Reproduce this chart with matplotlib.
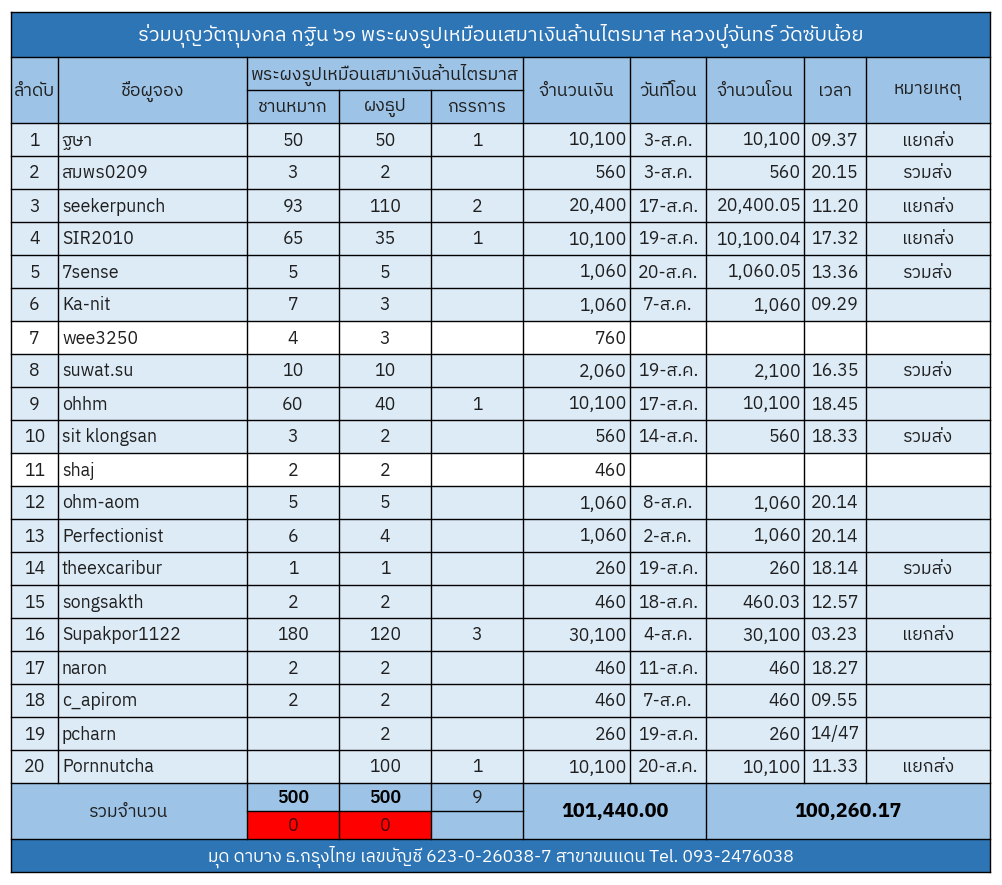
import matplotlib
matplotlib.use("Agg")
import matplotlib.pyplot as plt
from matplotlib import font_manager
from matplotlib.patches import Rectangle
from fontTools.ttLib import TTFont

# ---- data ----
title = "ร่วมบุญวัตถุมงคล กฐิน ๖๑ พระผงรูปเหมือนเสมาเงินล้านไตรมาส หลวงปู่จันทร์ วัดซับน้อย"
footer = "มุด ดาบาง ธ.กรุงไทย เลขบัญชี 623-0-26038-7 สาขาขนแดน Tel. 093-2476038"
group_header = "พระผงรูปเหมือนเสมาเงินล้านไตรมาส"
headers = ["ลำดับ", "ชื่อผูจอง", "ชานหมาก", "ผงธูป", "กรรการ",
           "จำนวนเงิน", "วันที่โอน", "จำนวนโอน", "เวลา", "หมายเหตุ"]

names = ["ฐษา", "สมพร0209", "seekerpunch", "SIR2010", "7sense", "Ka-nit", "wee3250",
         "suwat.su", "ohhm", "sit klongsan", "shaj", "ohm-aom", "Perfectionist",
         "theexcaribur", "songsakth", "Supakpor1122", "naron", "c_apirom", "pcharn",
         "Pornnutcha"]
chan = [50, 3, 93, 65, 5, 7, 4, 10, 60, 3, 2, 5, 6, 1, 2, 180, 2, 2, None, None]
phong = [50, 2, 110, 35, 5, 3, 3, 10, 40, 2, 2, 5, 4, 1, 2, 120, 2, 2, 2, 100]
kam = [1, None, 2, 1, None, None, None, None, 1, None, None, None, None, None,
       None, 3, None, None, None, 1]
amount = [10100, 560, 20400, 10100, 1060, 1060, 760, 2060, 10100, 560, 460, 1060,
          1060, 260, 460, 30100, 460, 460, 260, 10100]
dates = ["3-ส.ค.", "3-ส.ค.", "17-ส.ค.", "19-ส.ค.", "20-ส.ค.", "7-ส.ค.", "", "19-ส.ค.",
         "17-ส.ค.", "14-ส.ค.", "", "8-ส.ค.", "2-ส.ค.", "19-ส.ค.", "18-ส.ค.", "4-ส.ค.",
         "11-ส.ค.", "7-ส.ค.", "19-ส.ค.", "20-ส.ค."]
transfer = [10100, 560, 20400.05, 10100.04, 1060.05, 1060, None, 2100, 10100, 560,
            None, 1060, 1060, 260, 460.03, 30100, 460, 460, 260, 10100]
times = ["09.37", "20.15", "11.20", "17.32", "13.36", "09.29", "", "16.35", "18.45",
         "18.33", "", "20.14", "20.14", "18.14", "12.57", "03.23", "18.27", "09.55",
         "14/47", "11.33"]
notes = ["แยกส่ง", "รวมส่ง", "แยกส่ง", "แยกส่ง", "รวมส่ง", "", "", "รวมส่ง", "", "รวมส่ง",
         "", "", "", "รวมส่ง", "", "แยกส่ง", "", "", "", "แยกส่ง"]
unpaid_rows = [7, 11]  # rows shown on white
target_qty = 500
total_label = "รวมจำนวน"

# ---- font with Thai glyphs ----
thai_font = None
for fe in font_manager.fontManager.ttflist:
    try:
        f = TTFont(fe.fname, fontNumber=0, lazy=True)
        cmap = f.getBestCmap()
        if cmap and 0x0E01 in cmap and 0x0E33 in cmap:
            thai_font = fe.name
            if "Tahoma" in fe.name or "Thai" in fe.name:
                break
    except Exception:
        pass
families = ([thai_font] if thai_font else []) + ["DejaVu Sans"]
plt.rcParams["font.family"] = families

# ---- layout (pixels) ----
W, H = 1002, 885
xs = [11, 58, 247, 339, 431, 523, 630, 706, 804, 866, 990]
y_top, y_title, y_h1, y_h2 = 12, 57, 90, 123
row_h = 33
n = len(names)
y_rows = [y_h2 + i * row_h for i in range(n + 1)]
y_tot = y_rows[-1]
y_tot_mid = y_tot + 28
y_foot = y_tot + 56
y_end = y_foot + 33

c_dark = "#2E75B6"
c_head = "#9DC3E6"
c_light = "#DDEBF7"
c_red = "#FF0000"
txt = "#1f1f1f"
fs = 12.8

fig = plt.figure(figsize=(W / 100, H / 100), dpi=100)
ax = fig.add_axes([0, 0, 1, 1])
ax.set_xlim(0, W)
ax.set_ylim(H, 0)
ax.axis("off")


def rect(x0, y0, x1, y1, color):
    ax.add_patch(Rectangle((x0, y0), x1 - x0, y1 - y0, facecolor=color,
                           edgecolor="none", zorder=1))


def hline(y, x0, x1):
    ax.plot([x0, x1], [y, y], color="black", lw=1, zorder=3, solid_capstyle="projecting")


def vline(x, y0, y1):
    ax.plot([x, x], [y0, y1], color="black", lw=1, zorder=3, solid_capstyle="projecting")


def put(x, y, s, ha="center", size=fs, color=txt, weight="normal"):
    ax.text(x, y + 1, s, ha=ha, va="center", fontsize=size, color=color,
            fontweight=weight, zorder=4)


# backgrounds
rect(xs[0], y_top, xs[-1], y_title, c_dark)
rect(xs[0], y_title, xs[-1], y_h2, c_head)
for i in range(n):
    col = "white" if (i + 1) in unpaid_rows else c_light
    rect(xs[0], y_rows[i], xs[-1], y_rows[i + 1], col)
rect(xs[0], y_tot, xs[-1], y_foot, c_head)
rect(xs[2], y_tot_mid, xs[4], y_foot, c_red)
rect(xs[0], y_foot, xs[-1], y_end, c_dark)

# grid lines
hline(y_top, xs[0], xs[-1])
hline(y_title, xs[0], xs[-1])
hline(y_h1, xs[2], xs[5])
for y in y_rows:
    hline(y, xs[0], xs[-1])
hline(y_tot_mid, xs[2], xs[5])
hline(y_foot, xs[0], xs[-1])
hline(y_end, xs[0], xs[-1])
vline(xs[0], y_top, y_end)
vline(xs[-1], y_top, y_end)
for x in xs[1:-1]:
    y0 = y_h1 if x in (xs[3], xs[4]) else y_title
    vline(x, y0, y_tot)
for x in (xs[2], xs[3], xs[4], xs[5], xs[7]):
    vline(x, y_tot, y_foot)

# title / footer
put((xs[0] + xs[-1]) / 2, (y_top + y_title) / 2, title, size=14.5, color="white")
put((xs[0] + xs[-1]) / 2, (y_foot + y_end) / 2, footer, size=12.6, color="white")

# headers
mid_h = (y_title + y_h2) / 2
for j in (0, 1, 5, 6, 7, 8, 9):
    put((xs[j] + xs[j + 1]) / 2, mid_h, headers[j])
put((xs[2] + xs[5]) / 2, (y_title + y_h1) / 2, group_header)
for j in (2, 3, 4):
    put((xs[j] + xs[j + 1]) / 2, (y_h1 + y_h2) / 2, headers[j])


def money(v):
    if v is None:
        return ""
    return f"{v:,.0f}" if float(v).is_integer() else f"{v:,.2f}"


def qty(v):
    return "" if v is None else str(v)


for i in range(n):
    yc = (y_rows[i] + y_rows[i + 1]) / 2
    cx = lambda j: (xs[j] + xs[j + 1]) / 2
    put(cx(0), yc, str(i + 1))
    put(xs[1] + 4, yc, names[i], ha="left")
    put(cx(2), yc, qty(chan[i]))
    put(cx(3), yc, qty(phong[i]))
    put(cx(4), yc, qty(kam[i]))
    put(xs[6] - 3, yc, money(amount[i]), ha="right")
    put(cx(6), yc, dates[i])
    put(xs[8] - 3, yc, money(transfer[i]), ha="right")
    put(cx(8), yc, times[i])
    put(cx(9), yc, notes[i])

# totals
sum_chan = sum(v for v in chan if v)
sum_phong = sum(v for v in phong if v)
sum_kam = sum(v for v in kam if v)
sum_amount = sum(amount)
sum_transfer = sum(v for v in transfer if v)
yt1 = (y_tot + y_tot_mid) / 2
yt2 = (y_tot_mid + y_foot) / 2
put((xs[0] + xs[2]) / 2, (y_tot + y_foot) / 2, total_label)
put((xs[2] + xs[3]) / 2, yt1, str(sum_chan), color="black", weight="semibold")
put((xs[3] + xs[4]) / 2, yt1, str(sum_phong), color="black", weight="semibold")
put((xs[4] + xs[5]) / 2, yt1, str(sum_kam))
put((xs[2] + xs[3]) / 2, yt2, str(target_qty - sum_chan), color="#4a0000")
put((xs[3] + xs[4]) / 2, yt2, str(target_qty - sum_phong), color="#4a0000")
put((xs[5] + xs[7]) / 2, (y_tot + y_foot) / 2, f"{sum_amount:,.2f}", size=14.2,
    color="black", weight="bold")
put((xs[7] + xs[-1]) / 2, (y_tot + y_foot) / 2, f"{round(sum_transfer, 2):,.2f}", size=14.2,
    color="black", weight="bold")

fig.savefig("out.png", dpi=100, facecolor="white")
